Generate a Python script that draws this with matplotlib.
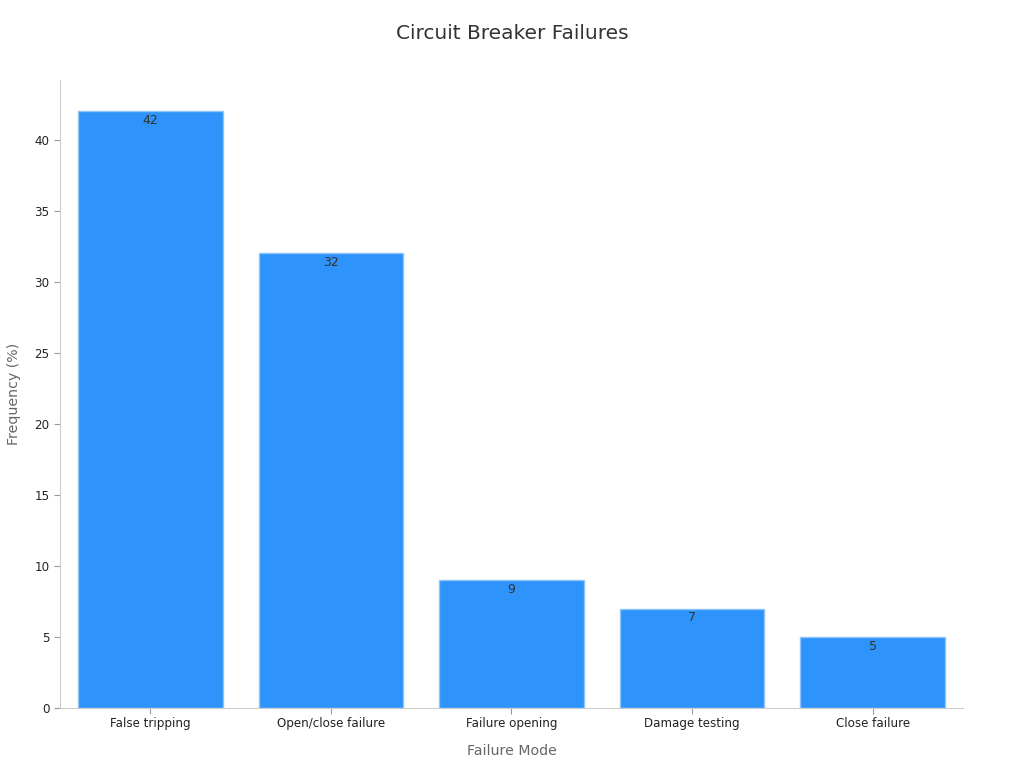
import matplotlib
matplotlib.use("Agg")
import matplotlib.pyplot as plt

modes = ["False tripping", "Open/close failure", "Failure opening", "Damage testing", "Close failure"]
freq = [42, 32, 9, 7, 5]

fig = plt.figure(figsize=(10.24, 7.68), dpi=100)
ax = fig.add_axes([0.0586, 0.078, 0.8818, 0.818])

x = range(len(modes))
bars = ax.bar(x, freq, width=0.8, color="#2e93fa", edgecolor="#8cc4fb", linewidth=1)
for b, v in zip(bars, freq):
    ax.text(b.get_x() + b.get_width() / 2, v - 0.2, str(v), ha="center", va="top",
            fontsize=9, color="#333333")

ax.set_xlim(-0.5, 4.5)
ax.set_ylim(0, 44.2)
ax.set_xticks(list(x))
ax.set_xticklabels(modes)
ax.set_yticks(range(0, 45, 5))
ax.tick_params(labelsize=8.6, colors="#222222")
ax.tick_params(axis="both", color="#999999", length=4)
ax.tick_params(axis="x", pad=2.5)

for s in ["top", "right"]:
    ax.spines[s].set_visible(False)
for s in ["left", "bottom"]:
    ax.spines[s].set_color("#cccccc")

ax.set_xlabel("Failure Mode", fontsize=10.2, color="#666666", labelpad=10)
ax.set_ylabel("Frequency (%)", fontsize=10.2, color="#666666", labelpad=10)
fig.suptitle("Circuit Breaker Failures", fontsize=14.5, color="#333333", y=0.969)

fig.savefig("out.png", dpi=100)
